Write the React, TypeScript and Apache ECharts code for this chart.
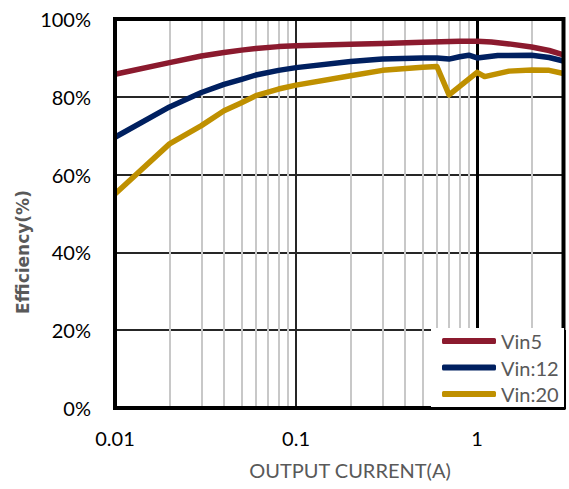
import React, { useEffect, useRef } from "react";
import * as echarts from "echarts";

const seriesNames = ["Vin5", "Vin:12", "Vin:20"];
const seriesColors = ["#8B1A2E", "#002060", "#BF9000"];

// [output current (A), efficiency (%)]
const vin5Points: [number, number][] = [
  [0.01, 85.8], [0.02, 88.8], [0.03, 90.5], [0.04, 91.4], [0.05, 92.0],
  [0.06, 92.4], [0.08, 92.9], [0.1, 93.1], [0.2, 93.5], [0.3, 93.7],
  [0.5, 94.0], [0.8, 94.3], [1, 94.3], [1.2, 94.1], [1.5, 93.6],
  [2, 92.8], [2.5, 91.9], [3, 90.8],
];
const vin12Points: [number, number][] = [
  [0.01, 69.6], [0.02, 77.4], [0.03, 81.1], [0.04, 83.2], [0.05, 84.5],
  [0.06, 85.6], [0.08, 86.8], [0.1, 87.5], [0.2, 89.1], [0.3, 89.7],
  [0.5, 90.0], [0.6, 90.0], [0.7, 89.7], [0.8, 90.3], [0.9, 90.7],
  [1.0, 90.0], [1.3, 90.6], [2, 90.7], [2.5, 90.1], [3, 89.2],
];
const vin20Points: [number, number][] = [
  [0.01, 55.0], [0.02, 67.9], [0.03, 72.6], [0.04, 76.4], [0.05, 78.5],
  [0.06, 80.3], [0.08, 82.0], [0.1, 83.0], [0.2, 85.4], [0.3, 86.8],
  [0.5, 87.6], [0.6, 87.8], [0.7, 80.5], [1.0, 86.3], [1.1, 85.2],
  [1.5, 86.6], [2, 86.9], [2.5, 86.8], [3, 86.0],
];

const xMin = 0.01;
const xMax = 3;
const yMin = 0;
const yMax = 100;
const yInterval = 20;
const minorGridX = [
  0.02, 0.03, 0.04, 0.05, 0.06, 0.07, 0.08, 0.09,
  0.2, 0.3, 0.4, 0.5, 0.6, 0.7, 0.8, 0.9, 2,
];
const decadeGridX = [0.1];
const thickGridX = [1];

const xTitle = "OUTPUT CURRENT(A)";
const yTitle = "Efficiency(%)";

export default function App() {
  const ref = useRef<HTMLDivElement>(null);

  useEffect(() => {
    if (!ref.current) return;
    const chart = echarts.init(ref.current, undefined, { renderer: "svg" });
    const font = "Lato";

    const gridLines = [
      ...minorGridX.map((v) => ({
        xAxis: v,
        lineStyle: { color: "#c8c8c8", width: 2, type: "solid" },
      })),
      ...decadeGridX.map((v) => ({
        xAxis: v,
        lineStyle: { color: "#262626", width: 2, type: "solid" },
      })),
      ...thickGridX.map((v) => ({
        xAxis: v,
        lineStyle: { color: "#000", width: 3, type: "solid" },
      })),
    ];

    const pointsList = [vin5Points, vin12Points, vin20Points];

    chart.setOption({
      animation: false,
      backgroundColor: "#fff",
      grid: {
        left: 115,
        right: 5.5,
        top: 19,
        bottom: 81,
        show: true,
        borderColor: "#000",
        borderWidth: 4,
        backgroundColor: "transparent",
        z: 3,
      },
      xAxis: {
        type: "log",
        logBase: 10,
        min: xMin,
        max: xMax,
        axisLine: { show: false },
        axisTick: { show: false },
        splitLine: { show: false },
        axisLabel: {
          fontFamily: font,
          fontSize: 20,
          color: "#000",
          margin: 20,
          showMaxLabel: false,
          formatter: (v: number) => {
            const l = Math.log10(v);
            if (Math.abs(l - Math.round(l)) > 1e-6) return "";
            return String(Number(v.toPrecision(6)));
          },
        },
      },
      yAxis: {
        type: "value",
        min: yMin,
        max: yMax,
        interval: yInterval,
        axisLine: { show: false },
        axisTick: { show: false },
        splitLine: { show: true, lineStyle: { color: "#262626", width: 2 } },
        axisLabel: {
          fontFamily: font,
          fontSize: 20,
          color: "#000",
          margin: 24,
          formatter: "{value}%",
        },
      },
      legend: {
        data: seriesNames,
        orient: "vertical",
        left: 437,
        top: 326,
        itemWidth: 54,
        itemHeight: 6,
        itemGap: 6.5,
        icon: "roundRect",
        z: 7,
        textStyle: {
          fontFamily: font,
          fontSize: 20,
          color: "#595959",
        },
      },
      graphic: [
        {
          type: "rect",
          z: 5,
          shape: { x: 433, y: 330, width: 133, height: 79 },
          style: { fill: "#000" },
        },
        {
          type: "rect",
          z: 6,
          shape: { x: 431, y: 328, width: 133, height: 79 },
          style: { fill: "#fff" },
        },
        {
          type: "text",
          x: 350,
          y: 470,
          style: {
            text: xTitle,
            fontFamily: font,
            fontSize: 20,
            fill: "#595959",
            textAlign: "center",
            textVerticalAlign: "middle",
          },
        },
        {
          type: "text",
          x: 23,
          y: 252,
          rotation: Math.PI / 2,
          style: {
            text: yTitle,
            fontFamily: "DejaVu Sans",
            fontWeight: "bold",
            fontSize: 17,
            fill: "#595959",
            textAlign: "center",
            textVerticalAlign: "middle",
          },
        },
      ],
      series: [
        {
          type: "line",
          name: "__grid",
          data: [],
          silent: true,
          z: 1,
          markLine: {
            silent: true,
            z: 1,
            symbol: ["none", "none"],
            label: { show: false },
            emphasis: { disabled: true },
            data: gridLines,
          },
        },
        ...seriesNames.map((name, i) => ({
          type: "line",
          name,
          data: pointsList[i],
          showSymbol: false,
          symbol: "none",
          z: 2,
          color: seriesColors[i],
          lineStyle: { color: seriesColors[i], width: 5.5, cap: "butt", join: "round" },
        })),
      ],
    });

    return () => chart.dispose();
  }, []);

  return <div ref={ref} style={{ width: 569, height: 489, position: "absolute", left: 0, top: 0 }} />;
}
